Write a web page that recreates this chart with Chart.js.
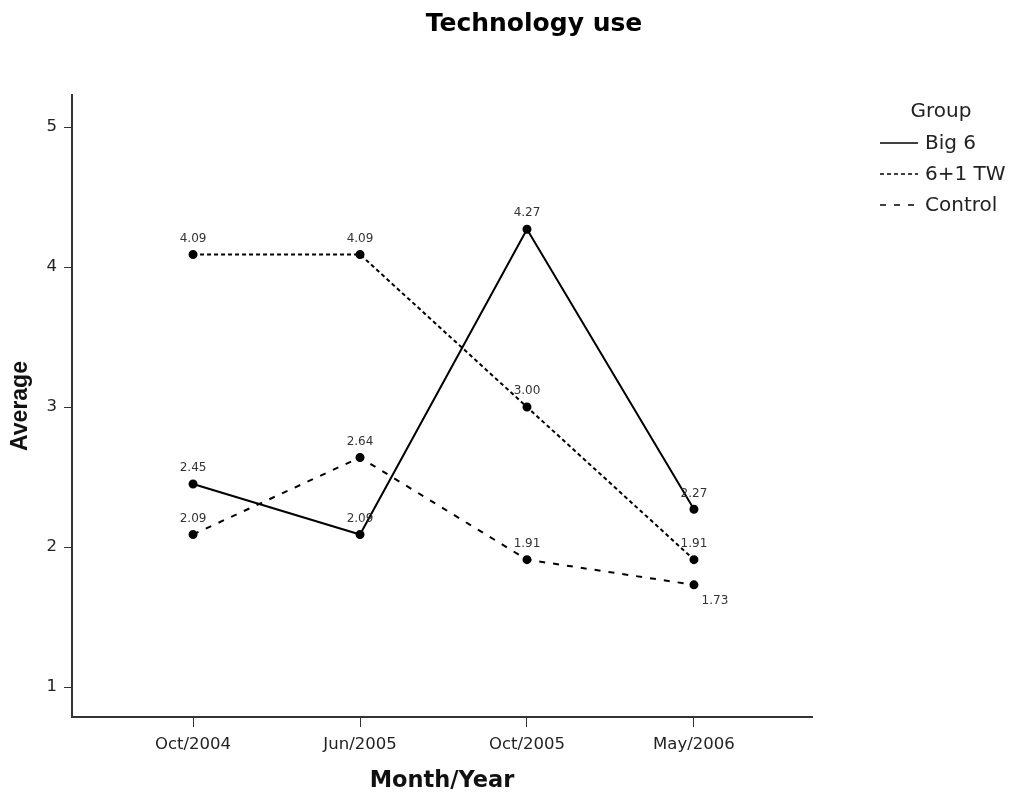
<!DOCTYPE html>
<html>
<head>
<meta charset="utf-8">
<script src="https://cdn.jsdelivr.net/npm/chart.js@4.4.1/dist/chart.umd.min.js"></script>
<style>
  html, body { margin: 0; padding: 0; background: #fff; }
  #wrap { width: 1011px; height: 796px; position: relative; }
</style>
</head>
<body>
<div id="wrap"><canvas id="c" width="1011" height="796"></canvas></div>
<script>
const categories = ["Oct/2004", "Jun/2005", "Oct/2005", "May/2006"];
const big6 = [2.45, 2.09, 4.27, 2.27];
const tw61 = [4.09, 4.09, 3.00, 1.91];
const control = [2.09, 2.64, 1.91, 1.73];
const seriesNames = ["Big 6", "6+1 TW", "Control"];
const yTicks = [1, 2, 3, 4, 5];

const WIDE = "'DejaVu Sans', sans-serif";
const ARIAL = "'Liberation Sans', Arial, sans-serif";

function toPts(arr) { return arr.map((v, i) => ({ x: i, y: v })); }

// label offsets: [dx, dy] relative to point (per series, per index)
const labelPlacement = {
  0: [[0, -16], [0, -16], [0, -16], [0, -15]],
  1: [[0, -16], [0, -16], [0, -16], [0, -16]],
  2: [[0, -16], [0, -16], [0, -16], [21, 16]]
};

const overlayPlugin = {
  id: 'overlay',
  afterDatasetsDraw(chart) {
    const ctx = chart.ctx;
    ctx.save();
    // data labels
    ctx.font = "12px " + WIDE;
    ctx.fillStyle = "#333";
    ctx.textAlign = "center";
    ctx.textBaseline = "middle";
    chart.data.datasets.forEach((ds, di) => {
      const meta = chart.getDatasetMeta(di);
      meta.data.forEach((pt, i) => {
        const off = labelPlacement[di][i];
        ctx.fillText(ds.data[i].y.toFixed(2), pt.x + off[0], pt.y + off[1]);
      });
    });
    // title
    ctx.font = "bold 25px " + WIDE;
    ctx.fillStyle = "#000";
    ctx.textBaseline = "alphabetic";
    ctx.fillText("Technology use", 534, 31);
    // legend
    ctx.textBaseline = "middle";
    ctx.font = "20px " + WIDE;
    ctx.fillStyle = "#222";
    ctx.fillText("Group", 941, 112);
    ctx.textAlign = "left";
    const ys = [143, 174, 205];
    chart.data.datasets.forEach((ds, di) => {
      ctx.strokeStyle = "#000";
      ctx.lineWidth = 1.5;
      ctx.setLineDash(ds.borderDash || []);
      ctx.beginPath();
      ctx.moveTo(880, ys[di]);
      ctx.lineTo(918, ys[di]);
      ctx.stroke();
      ctx.setLineDash([]);
      ctx.fillStyle = "#222";
      ctx.fillText(ds.label, 925, ys[di] + 1);
    });
    ctx.restore();
  }
};

new Chart(document.getElementById('c'), {
  type: 'line',
  data: {
    datasets: [
      { label: seriesNames[0], data: toPts(big6), borderColor: '#000', borderWidth: 2, borderDash: [],
        pointRadius: 3.5, pointBackgroundColor: '#000', pointBorderColor: '#000', tension: 0 },
      { label: seriesNames[1], data: toPts(tw61), borderColor: '#000', borderWidth: 2, borderDash: [4, 3],
        pointRadius: 3.5, pointBackgroundColor: '#000', pointBorderColor: '#000', tension: 0 },
      { label: seriesNames[2], data: toPts(control), borderColor: '#000', borderWidth: 2, borderDash: [6, 8],
        pointRadius: 3.5, pointBackgroundColor: '#000', pointBorderColor: '#000', tension: 0 }
    ]
  },
  options: {
    responsive: false,
    animation: false,
    layout: { padding: { left: 0, top: 95, right: 199, bottom: 0 } },
    plugins: {
      legend: { display: false },
      title: { display: false },
      tooltip: { enabled: false }
    },
    scales: {
      x: {
        type: 'linear',
        min: -0.725,
        max: 3.707,
        afterFit(scale) { scale.height = 79; },
        afterBuildTicks(scale) { scale.ticks = categories.map((c, i) => ({ value: i })); },
        ticks: {
          callback: (v) => categories[v],
          font: { family: WIDE, size: 16.5 },
          color: '#222',
          padding: 8,
          maxRotation: 0,
          autoSkip: false
        },
        grid: { drawOnChartArea: false, drawTicks: true, tickLength: 10, color: '#333', lineWidth: 1 },
        border: { display: true, color: '#333', width: 2 },
        title: { display: true, text: 'Month/Year', font: { family: WIDE, size: 22.5, weight: 'bold' }, color: '#111', padding: { top: 2, bottom: 1 } }
      },
      y: {
        type: 'linear',
        min: 0.786,
        max: 5.229,
        afterFit(scale) { scale.width = 72; },
        afterBuildTicks(scale) { scale.ticks = yTicks.map(v => ({ value: v })); },
        ticks: {
          font: { family: WIDE, size: 16.5 },
          color: '#222',
          padding: 7
        },
        grid: { drawOnChartArea: false, drawTicks: true, tickLength: 8, color: '#333', lineWidth: 1 },
        border: { display: true, color: '#333', width: 2 },
        title: { display: true, text: 'Average', font: { family: ARIAL, size: 23, weight: 'bold' }, color: '#111', padding: { top: 7, bottom: 0 } }
      }
    }
  },
  plugins: [overlayPlugin]
});
</script>
</body>
</html>
